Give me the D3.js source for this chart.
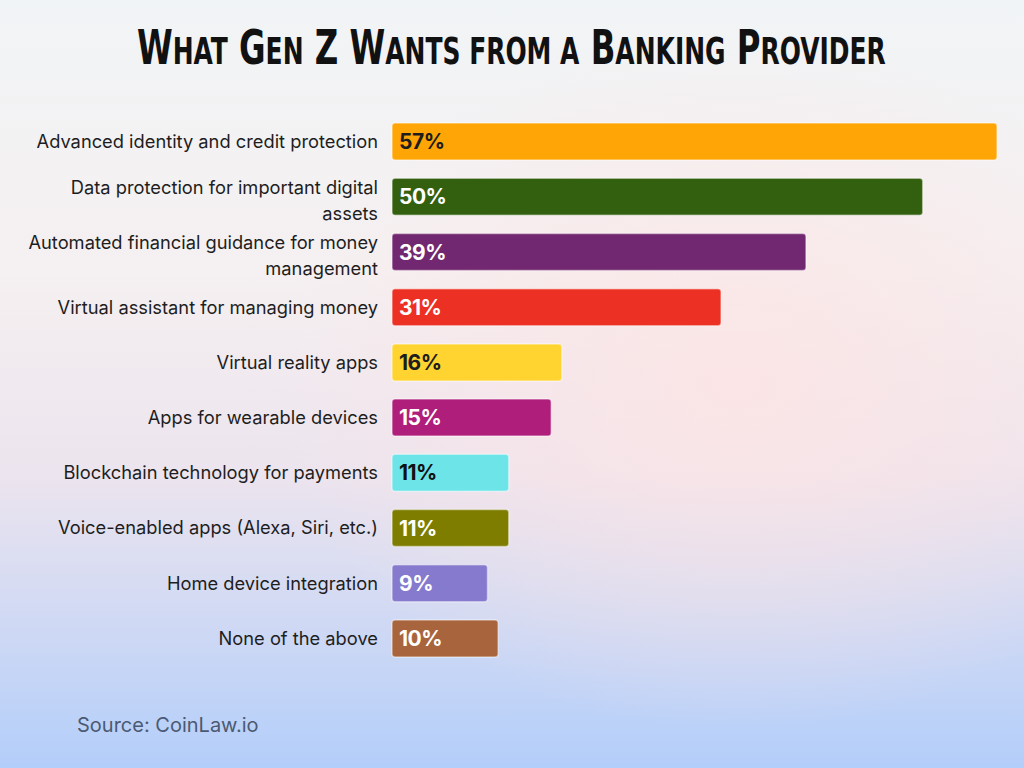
<!DOCTYPE html>
<html>
<head>
<meta charset="utf-8">
<script src="https://cdn.jsdelivr.net/npm/d3@7"></script>
<style>
  html, body { margin: 0; padding: 0; width: 1024px; height: 768px; overflow: hidden; }
  svg { display: block; }
</style>
</head>
<body>
<svg id="chart" width="1024" height="768"></svg>
<script>
const categories = [
  "Advanced identity and credit protection",
  "Data protection for important digital\nassets",
  "Automated financial guidance for money\nmanagement",
  "Virtual assistant for managing money",
  "Virtual reality apps",
  "Apps for wearable devices",
  "Blockchain technology for payments",
  "Voice-enabled apps (Alexa, Siri, etc.)",
  "Home device integration",
  "None of the above"
];
const values = [57, 50, 39, 31, 16, 15, 11, 11, 9, 10];
const barColors = ["#FFA505", "#33600F", "#722870", "#EC3024", "#FFD430", "#AF1E7A", "#6CE4E8", "#7E7D00", "#857ACE", "#A8643D"];
const valueTextColors = ["#1d1d1d", "#ffffff", "#ffffff", "#ffffff", "#1d1d1d", "#ffffff", "#111111", "#ffffff", "#ffffff", "#ffffff"];
const title = "What Gen Z Wants from a Banking Provider";
const source = "Source: CoinLaw.io";

const svg = d3.select("#chart");
const W = 1024, H = 768;

// background
const defs = svg.append("defs");
const lg = defs.append("linearGradient").attr("id", "bg").attr("x1", 0).attr("y1", 0).attr("x2", 0).attr("y2", 1);
[["0%", "#F1F4F6"], ["35%", "#F5F0F1"], ["62%", "#ECE4EE"], ["100%", "#B3CEFA"]].forEach(([o, c]) =>
  lg.append("stop").attr("offset", o).attr("stop-color", c));
const rg = defs.append("radialGradient").attr("id", "pink").attr("cx", 0.72).attr("cy", 0.5).attr("r", 0.45);
rg.append("stop").attr("offset", "0%").attr("stop-color", "#FDE4E4").attr("stop-opacity", 0.85);
rg.append("stop").attr("offset", "100%").attr("stop-color", "#FDE4E4").attr("stop-opacity", 0);
svg.append("rect").attr("width", W).attr("height", H).attr("fill", "url(#bg)");
svg.append("rect").attr("width", W).attr("height", H).attr("fill", "url(#pink)");

// title: small-caps built from tspans, then fitted horizontally
const titleG = svg.append("g");
const titleT = titleG.append("text")
  .attr("x", 0).attr("y", 0)
  .attr("font-family", "'DejaVu Sans Condensed', 'Liberation Sans Narrow', sans-serif")
  .attr("font-weight", 700)
  .attr("fill", "#111111");
title.split(" ").forEach((w, i) => {
  const first = w[0], rest = w.slice(1);
  const bigFirst = first === first.toUpperCase();
  titleT.append("tspan").attr("font-size", bigFirst ? 48 : 37).text((i > 0 ? " " : "") + first.toUpperCase());
  if (rest) titleT.append("tspan").attr("font-size", 37).text(rest.toUpperCase());
});
const tw = titleT.node().getComputedTextLength();
const targetW = 749;
titleG.attr("transform", `translate(137,64) scale(${targetW / tw},1)`);

// scales
const x0 = 392;
const x = d3.scaleLinear().domain([0, 57]).range([x0, 997]);
const y = d3.scaleBand().domain(d3.range(categories.length)).range([114, 666]).paddingInner(0.33).paddingOuter(0.165);

const g = svg.append("g");
const rows = g.selectAll("g.row").data(values).join("g").attr("class", "row");

rows.append("rect")
  .attr("x", x0)
  .attr("y", (d, i) => y(i))
  .attr("width", d => x(d) - x0)
  .attr("height", y.bandwidth())
  .attr("rx", 3)
  .attr("fill", (d, i) => barColors[i])
  .attr("stroke", "#ffffff").attr("stroke-opacity", 0.45).attr("stroke-width", 1.5);

rows.append("text")
  .attr("x", x0 + 7)
  .attr("y", (d, i) => y(i) + y.bandwidth() / 2)
  .attr("dy", "0.36em")
  .attr("font-family", "Inter, 'Noto Sans', sans-serif")
  .attr("font-weight", 700)
  .attr("font-size", 21)
  .attr("letter-spacing", -0.5)
  .attr("fill", (d, i) => valueTextColors[i])
  .text(d => d + "%");

// category labels
const lab = g.selectAll("text.cat").data(categories).join("text")
  .attr("class", "cat")
  .attr("text-anchor", "end")
  .attr("font-family", "Inter, 'Noto Sans', sans-serif")
  .attr("font-size", 18.3)
  .attr("fill", "#1e1e1e");
lab.each(function(d, i) {
  const lines = d.split("\n");
  const cy = y(i) + y.bandwidth() / 2;
  const t = d3.select(this);
  lines.forEach((ln, k) => {
    const yy = lines.length === 1 ? cy : cy - 9 + k * 25.5;
    t.append("tspan").attr("x", 378).attr("y", yy).attr("dy", "0.35em").text(ln);
  });
});

// source
svg.append("text")
  .attr("x", 77).attr("y", 732)
  .attr("font-family", "Inter, 'Noto Sans', sans-serif")
  .attr("font-size", 20)
  .attr("fill", "#4B5A72")
  .text(source);
</script>
</body>
</html>
